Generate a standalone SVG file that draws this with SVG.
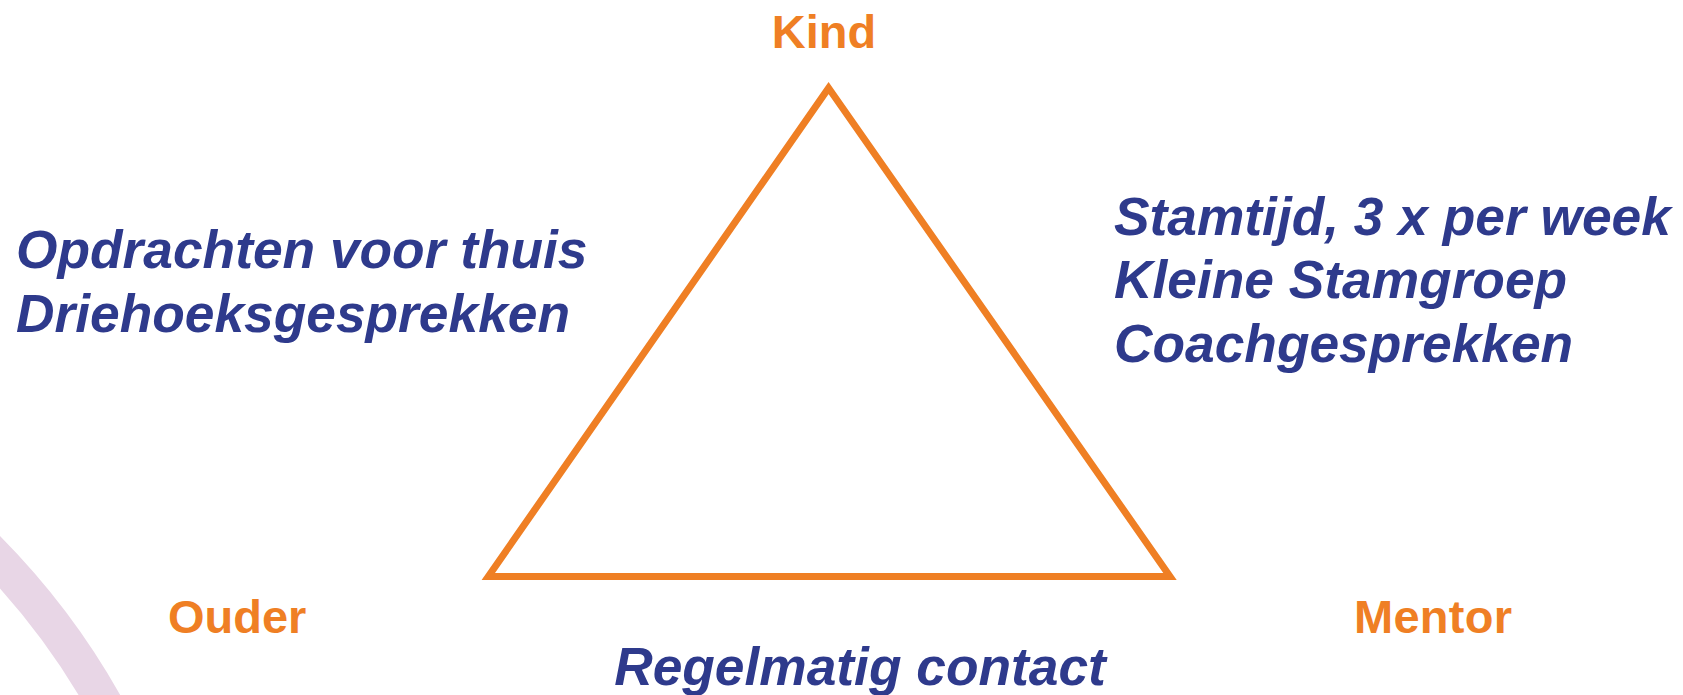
<svg xmlns="http://www.w3.org/2000/svg" width="1683" height="695" viewBox="0 0 1683 695">
<style>
.vertex{font-family:"Liberation Sans",Arial,sans-serif;font-weight:bold;font-size:47px;fill:#EF7F24}
.note{font-family:"Liberation Sans",Arial,sans-serif;font-weight:bold;font-style:italic;font-size:53.3px;fill:#2E3A8C}
</style>
<rect width="1683" height="695" fill="#ffffff"/>
<circle cx="-530" cy="1061" r="728" fill="none" stroke="#E8D6E6" stroke-width="36"/>
<g id="connectors">
<polygon points="828.6,88 488.3,576.4 1170,576.4" fill="none" stroke="#EF7F24" stroke-width="7" stroke-linejoin="miter"/>
</g>
<g id="kind"><text class="vertex" x="824" y="48" text-anchor="middle">Kind</text></g>
<g id="ouder"><text class="vertex" x="168" y="633">Ouder</text></g>
<g id="mentor"><text class="vertex" x="1354" y="633" textLength="158">Mentor</text></g>
<g id="left-notes">
<text class="note" x="16" y="268">Opdrachten voor thuis</text>
<text class="note" x="16" y="332">Driehoeksgesprekken</text>
</g>
<g id="right-notes">
<text class="note" x="1114" y="235">Stamtijd, 3 x per week</text>
<text class="note" x="1114" y="298">Kleine Stamgroep</text>
<text class="note" x="1114" y="362">Coachgesprekken</text>
</g>
<g id="bottom-note"><text class="note" x="860" y="685" text-anchor="middle">Regelmatig contact</text></g>
</svg>
